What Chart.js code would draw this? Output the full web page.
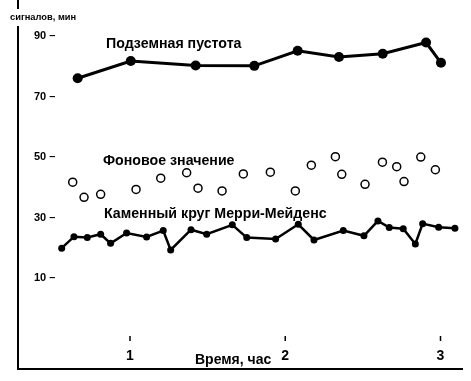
<!DOCTYPE html>
<html>
<head>
<meta charset="utf-8">
<script src="https://cdn.jsdelivr.net/npm/chart.js@4"></script>
<style>
  html, body { margin: 0; padding: 0; background: #fff; }
  #wrap { width: 471px; height: 381px; }
</style>
</head>
<body>
<div id="wrap"><canvas id="c" width="471" height="381"></canvas></div>
<script>
// ---- data (hours, signals per minute) ----
const voidHours = [0.663, 1.005, 1.423, 1.801, 2.080, 2.346, 2.628, 2.907, 3.003];
const voidValues = [76.1, 81.8, 80.3, 80.2, 85.2, 83.1, 84.2, 87.9, 81.2];

const bgHours = [0.631, 0.704, 0.811, 1.039, 1.198, 1.365, 1.438, 1.593, 1.730, 1.904,
                 2.065, 2.168, 2.323, 2.364, 2.514, 2.626, 2.718, 2.765, 2.873, 2.967];
const bgValues = [41.8, 36.8, 37.8, 39.4, 43.1, 44.9, 39.8, 38.9, 44.5, 45.1,
                  38.9, 47.4, 50.2, 44.4, 41.1, 48.4, 46.9, 42.0, 50.1, 45.9];

const ringHours = [0.560, 0.639, 0.725, 0.811, 0.875, 0.978, 1.107, 1.214, 1.262, 1.393,
                   1.494, 1.659, 1.752, 1.938, 2.084, 2.185, 2.374, 2.507, 2.597, 2.670,
                   2.760, 2.838, 2.885, 2.988, 3.093];
const ringValues = [20.0, 23.8, 23.5, 24.6, 21.6, 25.0, 23.7, 25.8, 19.4, 26.1,
                    24.6, 27.7, 23.5, 23.0, 27.9, 22.7, 25.8, 24.1, 29.0, 26.8,
                    26.4, 21.4, 28.1, 26.9, 26.6];

const yTickValues = [10, 30, 50, 70, 90];
const xTickValues = [1, 2, 3];
const xTickLabels = ['1', '2', '3'];

const yTitle = 'сигналов, мин';
const xTitle = 'Время, час';
const voidLabel = 'Подземная пустота';
const bgLabel = 'Фоновое значение';
const ringLabel = 'Каменный круг Мерри-Мейденс';

const pts = (xs, ys) => xs.map((x, i) => ({ x: x, y: ys[i] }));

const FONT = '"Liberation Sans", Arial, sans-serif';

const annot = {
  id: 'annot',
  afterDraw(chart) {
    const ctx = chart.ctx;
    const xs = chart.scales.x;
    ctx.save();
    // gap in the vertical axis where the title crosses it
    ctx.fillStyle = '#fff';
    ctx.fillRect(14, 9, 8, 17);
    ctx.fillStyle = '#000';
    ctx.textBaseline = 'middle';
    ctx.textAlign = 'left';
    ctx.font = 'bold 9.3px ' + FONT;
    ctx.fillText(yTitle, 10, 17);

    // series labels
    ctx.font = 'bold 14.2px ' + FONT;
    ctx.textBaseline = 'alphabetic';
    ctx.fillText(voidLabel, 106, 48);
    ctx.fillText(bgLabel, 103, 165);
    ctx.fillText(ringLabel, 104, 218);

    // x ticks drawn inside the plot, above the axis line
    ctx.strokeStyle = '#000';
    ctx.lineWidth = 1.5;
    ctx.font = 'bold 14px ' + FONT;
    ctx.textAlign = 'center';
    ctx.textBaseline = 'alphabetic';
    xTickValues.forEach((v, i) => {
      const px = xs.getPixelForValue(v);
      ctx.beginPath();
      ctx.moveTo(px, 336);
      ctx.lineTo(px, 341);
      ctx.stroke();
      ctx.fillText(xTickLabels[i], px, 360);
    });
    ctx.font = 'bold 14px ' + FONT;
    ctx.textAlign = 'left';
    ctx.fillText(xTitle, 195, 364);
    ctx.restore();
  }
};

new Chart(document.getElementById('c'), {
  type: 'scatter',
  data: {
    datasets: [
      {
        label: voidLabel,
        data: pts(voidHours, voidValues),
        showLine: true,
        borderColor: '#000',
        backgroundColor: '#000',
        borderWidth: 3,
        pointRadius: 5,
        pointBorderWidth: 0,
        tension: 0
      },
      {
        label: bgLabel,
        data: pts(bgHours, bgValues),
        showLine: false,
        borderColor: '#000',
        backgroundColor: '#fff',
        pointRadius: 4,
        pointBorderWidth: 1.5
      },
      {
        label: ringLabel,
        data: pts(ringHours, ringValues),
        showLine: true,
        borderColor: '#000',
        backgroundColor: '#000',
        borderWidth: 2.5,
        pointRadius: 3.5,
        pointBorderWidth: 0,
        tension: 0
      }
    ]
  },
  options: {
    responsive: false,
    animation: false,
    devicePixelRatio: 1,
    layout: { autoPadding: false, padding: { left: 18, top: 0, right: 9, bottom: 12 } },
    plugins: {
      legend: { display: false },
      tooltip: { enabled: false }
    },
    scales: {
      x: {
        type: 'linear',
        min: 0.2786,
        max: 3.1385,
        grid: { display: false },
        border: { display: true, color: '#000', width: 2 },
        ticks: { display: false },
        afterFit(scale) { scale.height = 0; scale.paddingLeft = 0; scale.paddingRight = 0; }
      },
      y: {
        type: 'linear',
        min: -19.9,
        max: 101.95,
        grid: { display: false },
        border: { display: true, color: '#000', width: 2 },
        afterBuildTicks(scale) { scale.ticks = yTickValues.map(v => ({ value: v })); },
        afterFit(scale) { scale.width = 0; scale.paddingTop = 0; scale.paddingBottom = 0; },
        ticks: {
          mirror: true,
          padding: 16,
          color: '#000',
          font: { family: FONT, size: 11, weight: 'bold' },
          callback: (v) => v + ' –'
        }
      }
    }
  },
  plugins: [annot]
});
</script>
</body>
</html>
